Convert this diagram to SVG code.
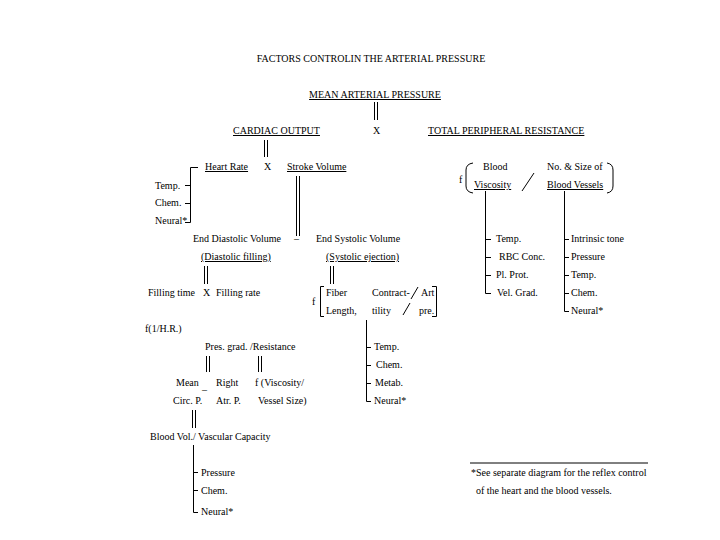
<svg xmlns="http://www.w3.org/2000/svg" width="720" height="540" viewBox="0 0 720 540">
<style>
text{font-family:"Liberation Serif","Times New Roman",serif;font-size:10px;fill:#000}
.u{text-decoration:underline}
.ln{stroke:#000;stroke-width:1;fill:none}
</style>
<rect width="720" height="540" fill="#fff"/>
<g id="title"><text x="371" y="62" text-anchor="middle">FACTORS CONTROLIN THE ARTERIAL PRESSURE</text></g>
<g id="map"><text x="375" y="98" text-anchor="middle" class="u">MEAN ARTERIAL PRESSURE</text></g>
<g id="co"><text x="233" y="134" class="u">CARDIAC OUTPUT</text><text x="373" y="134">X</text></g>
<g id="tpr"><text x="428" y="134" class="u">TOTAL PERIPHERAL RESISTANCE</text></g>
<g id="hr"><text x="205" y="170" class="u">Heart Rate</text><text x="264" y="170">X</text></g>
<g id="sv"><text x="287" y="170" class="u">Stroke Volume</text></g>
<g id="hr-factors"><text x="155" y="189">Temp.</text><text x="155" y="206">Chem.</text><text x="155" y="224">Neural*</text></g>
<g id="edv"><text x="193" y="242">End Diastolic Volume</text><text x="294" y="242">–</text><text x="201" y="260" class="u">(Diastolic filling)</text></g>
<g id="esv"><text x="316" y="242">End Systolic Volume</text><text x="326" y="260" class="u">(Systolic ejection)</text></g>
<g id="filling"><text x="148" y="296">Filling time</text><text x="203" y="296">X</text><text x="216" y="296">Filling rate</text></g>
<g id="ejection"><text x="312" y="305">f</text><text x="326" y="296">Fiber</text><text x="326" y="314">Length,</text><text x="372" y="296">Contract-</text><text x="372" y="314">tility</text><text x="421" y="296">Art</text><text x="419" y="314">pre.</text></g>
<g id="contract-factors"><text x="374" y="350">Temp.</text><text x="376" y="368">Chem.</text><text x="375" y="386">Metab.</text><text x="374" y="404">Neural*</text></g>
<g id="fhr"><text x="145" y="332">f(1/H.R.)</text></g>
<g id="presgrad"><text x="205" y="350">Pres. grad. /Resistance</text></g>
<g id="mcp"><text x="176" y="386">Mean</text><text x="173" y="404">Circ. P.</text><text x="202" y="393">–</text></g>
<g id="rap"><text x="216" y="386">Right</text><text x="216" y="404">Atr. P.</text></g>
<g id="visc"><text x="255" y="386">f (Viscosity/</text><text x="258" y="404">Vessel Size)</text></g>
<g id="bv"><text x="150" y="440">Blood Vol./ Vascular Capacity</text></g>
<g id="bv-factors"><text x="201" y="476">Pressure</text><text x="201" y="494">Chem.</text><text x="201" y="515">Neural*</text></g>
<g id="tpr-f"><text x="459" y="183">f</text><text x="483" y="170">Blood</text><text x="474" y="188" class="u">Viscosity</text><text x="547" y="170">No. &amp; Size of</text><text x="547" y="188" class="u">Blood Vessels</text></g>
<g id="visc-factors"><text x="496" y="242">Temp.</text><text x="499" y="260">RBC Conc.</text><text x="496" y="278">Pl. Prot.</text><text x="497" y="296">Vel. Grad.</text></g>
<g id="vessel-factors"><text x="571" y="242">Intrinsic tone</text><text x="571" y="260">Pressure</text><text x="571" y="278">Temp.</text><text x="571" y="296">Chem.</text><text x="571" y="314">Neural*</text></g>
<g id="footnote"><line class="ln" x1="470" y1="463" x2="648" y2="463"/><text x="471" y="476">*See separate diagram for the reflex control</text><text x="476" y="494">of the heart and the blood vessels.</text></g>
<g id="connectors" class="ln">
<path class="ln" d="M374.5 102V120M377.5 102V120"/>
<path class="ln" d="M264.5 140V157M267.5 140V157"/>
<path class="ln" d="M198 167.5H190.5V222.5H185M185 185.5H190M185 203.5H190"/>
<path class="ln" d="M296.5 176V236M299.5 176V236"/>
<path class="ln" d="M204.5 266V284M207.5 266V284"/>
<path class="ln" d="M330.5 266V284M333.5 266V284"/>
<path class="ln" d="M324 286.5H320.5V316.5H324M432 286.5H436.5V316.5H432"/>
<path class="ln" d="M418 287L411 299M410 303L403 315"/>
<path class="ln" d="M366.5 320V401.5H371M366.5 347.5H371M366.5 365.5H371M366.5 383.5H371"/>
<path class="ln" d="M206.5 356V372M209.5 356V372M258.5 356V372M261.5 356V372"/>
<path class="ln" d="M192.5 410V428M195.5 410V428"/>
<path class="ln" d="M193.5 445V512.5H198M193.5 472.5H198M193.5 490.5H198"/>
<path class="ln" d="M473 163Q466 164 466 170V186Q466 192 473 193M607 163Q613 164 613 170V186Q613 192 607 193"/>
<path class="ln" d="M534 173L522 191"/>
<path class="ln" d="M485.5 191V293.5H491M485.5 239.5H491M485.5 257.5H491M485.5 275.5H491"/>
<path class="ln" d="M564.5 191V311.5H569M564.5 239.5H569M564.5 257.5H569M564.5 275.5H569M564.5 293.5H569"/>
</g>
</svg>
